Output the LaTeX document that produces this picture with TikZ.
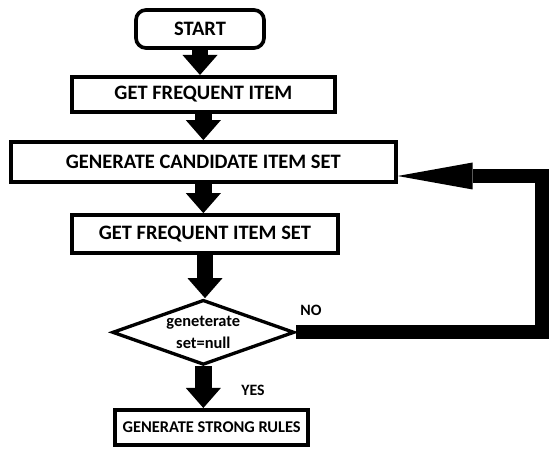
\documentclass[tikz,border=0pt]{standalone}
\usepackage{fontspec}
\setmainfont{Carlito}
\usetikzlibrary{arrows.meta,shapes.geometric}

\begin{document}
\begin{tikzpicture}
                [
                block/.style={rectangle,draw,line width=1.1mm,inner sep=0pt,font=\fontsize{17.5}{20}\selectfont\bfseries},
                decision/.style={diamond,draw,line width=1mm,aspect=2.8,inner sep=0pt,align=center,minimum width=5.46cm,minimum height=1.95cm,font=\fontsize{14}{19}\selectfont\bfseries},
                answer/.style={font=\fontsize{13.5}{16}\selectfont\bfseries},
                edge/.style={line width=5mm,-{Triangle[width=10.5mm,length=6mm,line width=0pt]}},
                feedback/.style={line width=4.2mm,-{Triangle[width=8.1mm,length=22.5mm,line width=0pt]}}
                ]
            \useasboundingbox (0,0) rectangle (16.47,13.59);
            \node[block,rounded corners=3mm,minimum width=3.84cm,minimum height=1.14cm] (1) at (6.0,12.72) {START};
            \node[block,minimum width=7.89cm,minimum height=1.05cm] (2) at (6.1,10.76) {GET FREQUENT ITEM};
            \node[block,minimum width=11.55cm,minimum height=1.2cm] (3) at (6.1,8.73) {GENERATE CANDIDATE ITEM SET};
            \node[block,minimum width=7.98cm,minimum height=1.14cm] (4) at (6.15,6.57) {GET FREQUENT ITEM SET};
            \node[decision] (5) at (6.1,3.62) {geneterate\\set=null};
            \node[block,minimum width=5.79cm,minimum height=1.05cm,font=\fontsize{14}{16}\selectfont\bfseries] (6) at (6.35,0.77) {GENERATE STRONG RULES};
            \node[answer] (no) at (9.33,4.29) {NO};
            \node[answer] (yes) at (7.59,1.89) {YES};
            \coordinate (turn) at (16.26,3.6);
            \draw[edge] (1.south) -- (1.south |- 2.north);
            \draw[edge] (2.south) -- (2.south |- 3.north);
            \draw[edge] (3.south) -- (3.south |- 4.north);
            \draw[edge] (4.south) -- (4.south |- 5.north);
            \draw[edge] (5.south) -- (5.south |- 6.north);
            \draw[feedback] (5.east) -- (5.east -| turn) |- ([yshift=-0.42cm]3.east);
            \end{tikzpicture}
\end{document}
